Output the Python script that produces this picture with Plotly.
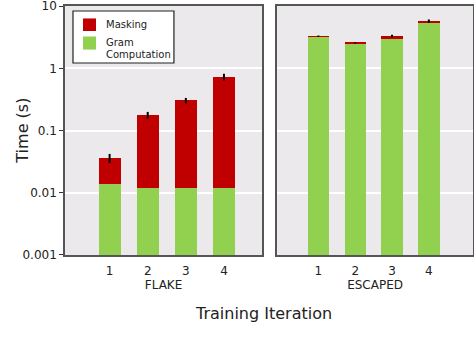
import plotly.graph_objects as go

iterations = [1, 2, 3, 4]
tick_labels = ["1", "2", "3", "4"]

# FLAKE run times (seconds)
flake_gram = [0.0138, 0.012, 0.012, 0.012]
flake_masking = [0.0222, 0.165, 0.292, 0.714]
flake_err = [0.006, 0.022, 0.03, 0.09]

# ESCAPED run times (seconds)
escaped_gram = [3.22, 2.5, 3.0, 5.3]
escaped_masking = [0.07, 0.07, 0.3, 0.45]
escaped_err = [0.08, 0.06, 0.15, 0.35]

RED = "#C00000"
GREEN = "#92D050"
FONT = "DejaVu Sans"
TEXT = "#222222"

fig = go.Figure()


def add_panel(xa, ya, gram, masking, err):
    fig.add_trace(go.Bar(x=iterations, y=gram, name="Gram Computation",
                         marker=dict(color=GREEN, line=dict(width=0)),
                         width=0.58, xaxis=xa, yaxis=ya))
    fig.add_trace(go.Bar(x=iterations, y=masking, name="Masking",
                         marker=dict(color=RED, line=dict(width=0)),
                         width=0.58, xaxis=xa, yaxis=ya))
    totals = [g + m for g, m in zip(gram, masking)]
    fig.add_trace(go.Scatter(x=iterations, y=totals, mode="markers",
                             marker=dict(size=1, color="black", opacity=0),
                             error_y=dict(type="data", array=err, visible=True,
                                          color="black", thickness=2, width=0),
                             xaxis=xa, yaxis=ya, hoverinfo="skip"))


add_panel("x", "y", flake_gram, flake_masking, flake_err)
add_panel("x2", "y2", escaped_gram, escaped_masking, escaped_err)

axis_common = dict(showline=True, linecolor="#555555", linewidth=1.5,
                   mirror=True, zeroline=False, automargin=False)

xcommon = dict(axis_common, tickvals=iterations, ticktext=tick_labels,
               showgrid=False, ticks="outside", ticklen=4,
               tickcolor="rgba(0,0,0,0)",
               tickfont=dict(family=FONT, size=12, color=TEXT),
               title_font=dict(family=FONT, size=12, color=TEXT),
               title_standoff=2)

ycommon = dict(axis_common, type="log", range=[-3.002, 1.002],
               tickvals=[0.001, 0.01, 0.1, 1, 10],
               ticktext=["0.001", "0.01", "0.1", "1", "10"],
               showgrid=True, gridcolor="white", gridwidth=1.5,
               ticklabeloverflow="allow",
               tickfont=dict(family=FONT, size=12, color=TEXT))

# Legend box drawn in paper coordinates inside the FLAKE panel
legend_shapes = [
    dict(type="rect", xref="paper", yref="paper", x0=0.0196, x1=0.267,
         y0=0.771, y1=0.980, fillcolor="white",
         line=dict(color=TEXT, width=1.2)),
    dict(type="rect", xref="paper", yref="paper", x0=0.0441, x1=0.076,
         y0=0.8996, y1=0.950, fillcolor=RED, line=dict(width=0)),
    dict(type="rect", xref="paper", yref="paper", x0=0.0441, x1=0.076,
         y0=0.825, y1=0.8775, fillcolor=GREEN, line=dict(width=0)),
]

legend_font = dict(family=FONT, size=10, color=TEXT)
legend_labels = [
    dict(text="Masking", x=0.0956, y=0.9237),
    dict(text="Gram", x=0.0956, y=0.853),
    dict(text="Computation", x=0.0956, y=0.805),
]

annotations = [
    dict(a, xref="paper", yref="paper", showarrow=False, xanchor="left",
         yanchor="middle", font=legend_font)
    for a in legend_labels
] + [
    dict(text="Training Iteration", xref="paper", yref="paper",
         x=0.487, y=-0.233, showarrow=False, xanchor="center",
         yanchor="middle", font=dict(family=FONT, size=16, color=TEXT)),
    dict(text="Time (s)", xref="paper", yref="paper",
         x=-0.105, y=0.5, showarrow=False, textangle=-90,
         xanchor="center", yanchor="middle",
         font=dict(family=FONT, size=16, color=TEXT)),
]

fig.update_layout(
    width=474, height=348,
    margin=dict(l=65, r=1, t=6, b=93, autoexpand=False),
    barmode="stack",
    plot_bgcolor="#EBE9EB",
    paper_bgcolor="white",
    showlegend=False,
    xaxis=dict(xcommon, domain=[0, 0.483], range=[-0.17, 5.0],
               title_text="FLAKE"),
    xaxis2=dict(xcommon, domain=[0.52, 1], range=[-0.12, 5.2],
                title_text="ESCAPED"),
    yaxis=dict(ycommon, ticks="outside", ticklen=4, tickcolor="#333"),
    yaxis2=dict(ycommon, anchor="x2", matches="y", showticklabels=False,
                ticks=""),
    shapes=legend_shapes,
    annotations=annotations,
)

fig.write_html("out.html")
